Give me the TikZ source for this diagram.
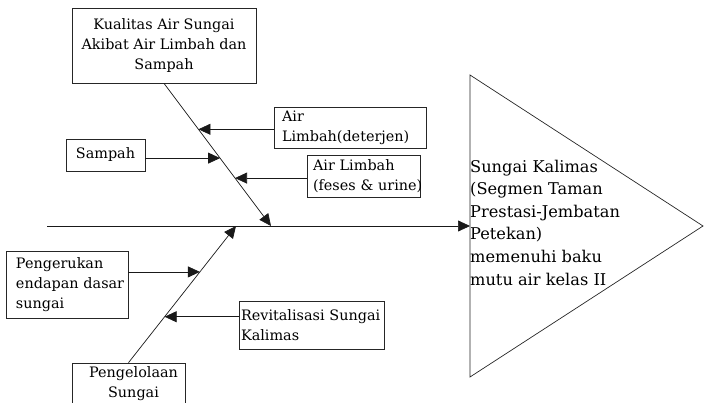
\documentclass[tikz,border=0pt]{standalone}
\usepackage{fontspec}
\setmainfont{DejaVu Serif}
\usepackage{tikz}
\usetikzlibrary{arrows.meta, calc}
\tikzset{
  causebox/.style={
    draw=black!85, line width=0.7pt, text=black, inner ysep=2pt,
    font=\fontsize{14.4}{20}\selectfont
  },
  causeboxleft/.style={
    causebox, align=left
  },
  bonearrow/.style={
    -{Triangle[length=12pt,width=11pt]}, line width=0.7pt, color=black!90
  },
  goaltext/.style={
    font=\fontsize{16.2}{22.6}\selectfont, align=left, inner sep=0pt
  },
}

\begin{document}
\begin{tikzpicture}[x=1pt, y=-1pt]
  \useasboundingbox (0,0) rectangle (704,402);
  \clip (0,0) rectangle (704,402);

  % --- Head of the fish ---
  \draw[line width=0.7pt, black!85] (470,75) -- (703,226) -- (470,377) -- cycle;
  \node[goaltext, anchor=west] (goal) at (470,222.5)
    {Sungai Kalimas\\(Segmen Taman\\Prestasi-Jembatan\\Petekan)\\memenuhi baku\\mutu air kelas II};

  % --- Upper bone ---
  \node[causebox, align=center, inner xsep=4pt, minimum width=184pt, minimum height=75pt]
    (kualitas) at (164,45.5) {Kualitas Air Sungai\\Akibat Air Limbah dan\\Sampah};
  \node[causeboxleft, inner xsep=8pt, text width=136pt, minimum height=41pt]
    (deterjen) at (350,127.5) {Air\\Limbah(deterjen)};
  \node[causebox, align=center, inner xsep=4pt, minimum width=79pt, minimum height=32pt]
    (sampah) at (105.5,155) {Sampah};
  \node[causeboxleft, inner xsep=6pt, text width=101pt, minimum height=42pt]
    (feses) at (363.5,176) {Air~Limbah\\(feses~\&~urine)};

  % --- Lower bone ---
  \node[causeboxleft, inner xsep=10pt, text width=102pt, minimum height=67pt]
    (pengerukan) at (67,284.5) {Pengerukan\\endapan~dasar\\sungai};
  \node[causeboxleft, inner xsep=2pt, text width=141pt, minimum height=48pt]
    (revitalisasi) at (311.5,325) {Revitalisasi~Sungai\\Kalimas};
  \node[causebox, align=center, inner xsep=4pt, minimum width=113pt, minimum height=42pt]
    (pengelolaan) at (128.5,384) {\hspace*{10pt}Pengelolaan\\\hspace*{10pt}Sungai};

  % --- Spine and bones ---
  \coordinate (spinestart) at (47,226);
  \coordinate (spineend) at (470,226);
  \coordinate (topjoint) at (271,226);
  \coordinate (lowjoint) at (236,226);
  \draw[bonearrow] (spinestart) -- (spineend);
  \draw[bonearrow] (kualitas.south) -- (topjoint);
  \draw[bonearrow] (pengelolaan.north) -- (lowjoint);

  % points on the bones
  \coordinate (onDeterjen) at ($(kualitas.south)!0.322!(topjoint)$);
  \coordinate (onSampah) at ($(kualitas.south)!0.524!(topjoint)$);
  \coordinate (onFeses) at ($(kualitas.south)!0.664!(topjoint)$);
  \coordinate (onPengerukan) at ($(pengelolaan.north)!0.664!(lowjoint)$);
  \coordinate (onRevitalisasi) at ($(pengelolaan.north)!0.336!(lowjoint)$);

  \draw[bonearrow] (deterjen.west |- onDeterjen) -- (onDeterjen);
  \draw[bonearrow] (sampah.east |- onSampah) -- (onSampah);
  \draw[bonearrow] (feses.west |- onFeses) -- (onFeses);
  \draw[bonearrow] (pengerukan.east |- onPengerukan) -- (onPengerukan);
  \draw[bonearrow] (revitalisasi.west |- onRevitalisasi) -- (onRevitalisasi);
\end{tikzpicture}
\end{document}
